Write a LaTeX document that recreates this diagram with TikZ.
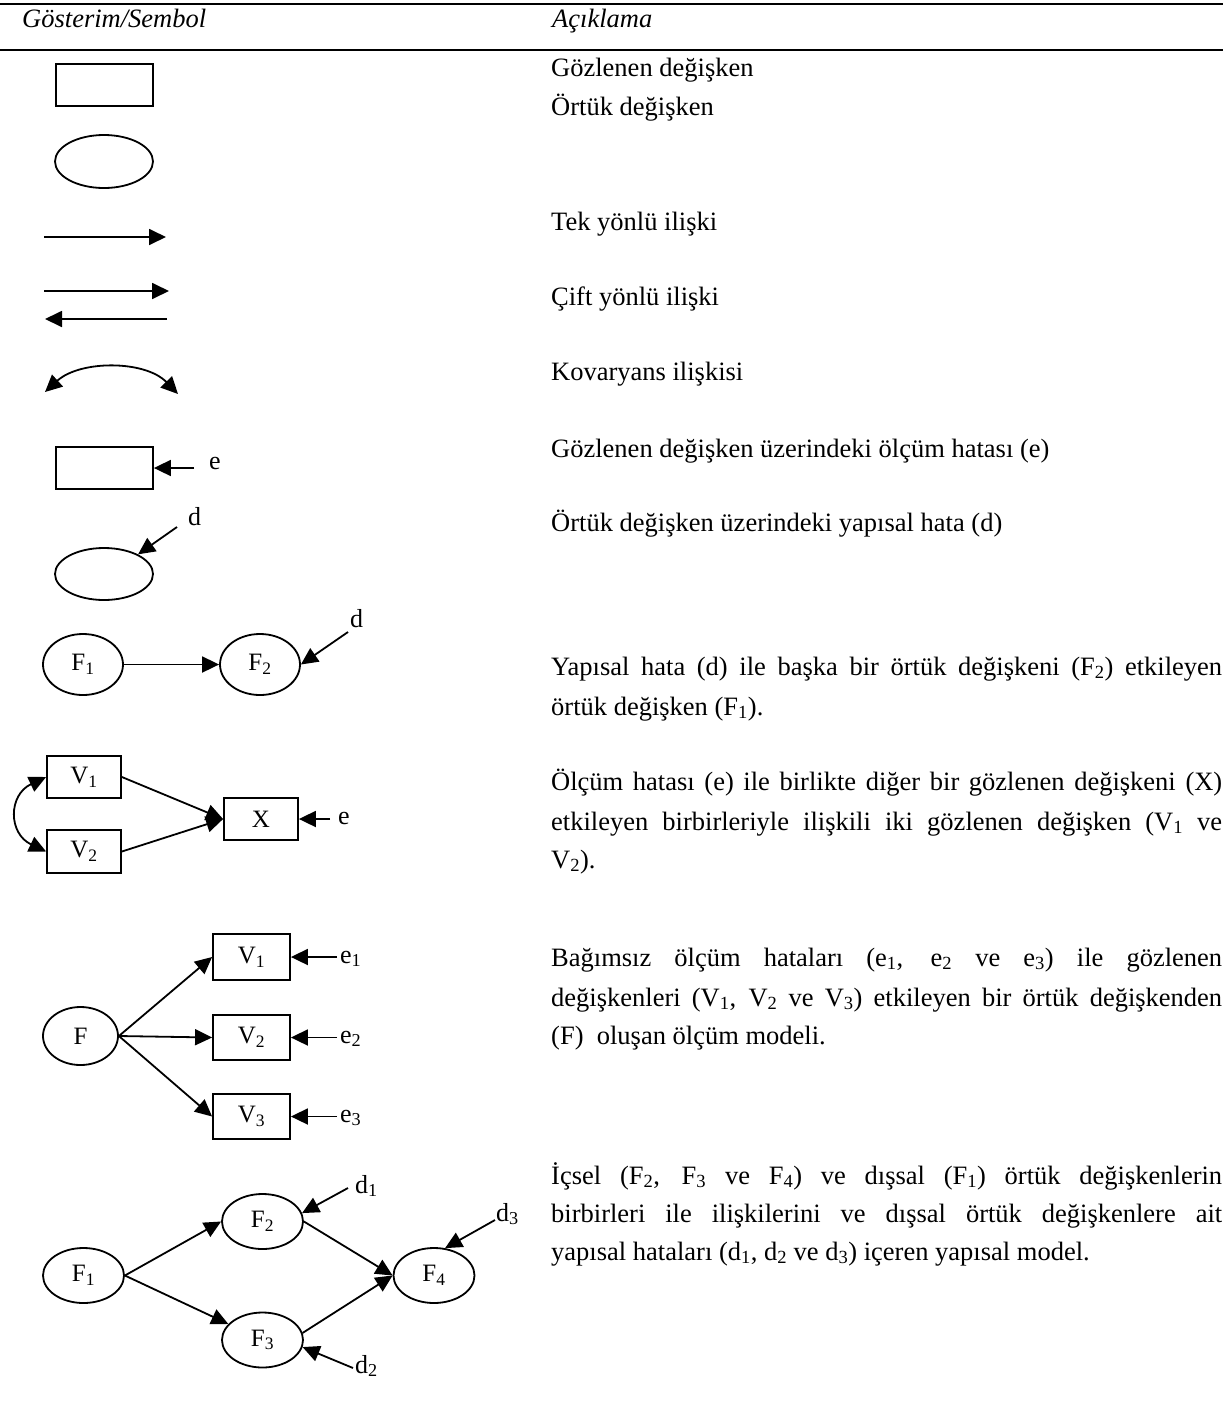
\documentclass[tikz,border=0pt]{standalone}
\usepackage{fontspec}
\setmainfont{Liberation Serif}
\usetikzlibrary{shapes.geometric,arrows.meta}

\newcommand{\sbs}[1]{\textsubscript{#1}}
\newcommand{\jline}[1]{\makebox[671pt][s]{#1}}

\tikzset{
  body/.style={anchor=base west,inner sep=0pt,font=\fontsize{26.5}{32}\selectfont},
  head/.style={anchor=base west,inner sep=0pt,font=\fontsize{26.5}{32}\selectfont\itshape},
  obsbox/.style={draw,rectangle,line width=1.8pt,inner sep=0pt,font=\fontsize{25}{30}\selectfont},
  latent/.style={draw,ellipse,line width=1.8pt,inner sep=0pt,font=\fontsize{25}{30}\selectfont},
  errlab/.style={anchor=base west,inner sep=0pt,font=\fontsize{26}{30}\selectfont},
  link/.style={line width=1.8pt,-{Triangle[length=17pt,width=16pt]}},
  twolink/.style={line width=1.8pt,{Triangle[length=17pt,width=16pt]}-{Triangle[length=17pt,width=16pt]}}
}

\begin{document}
\begin{tikzpicture}[x=1pt,y=-1pt]
	\useasboundingbox (0,0) rectangle (1223,1403);
	\draw[line width=1.8pt] (0,4) -- (1223,4);
	\draw[line width=1.6pt] (0,50) -- (1223,50);
	\node[head] (hsym) at (22,27) {Gösterim/Sembol};
	\node[head] (hdesc) at (552,27) {Açıklama};

	% simple symbols
	\node[obsbox,minimum width=97pt,minimum height=42pt] (obs) at (104.5,85) {};
	\node[body] (t1) at (551,76) {Gözlenen değişken};
	\node[latent,minimum width=98pt,minimum height=53pt] (lat) at (104,161.5) {};
	\node[body] (t2) at (551,115) {Örtük değişken};

	\coordinate (ua) at (44,237);
	\coordinate (ub) at (166,237);
	\draw[link] (ua) -- (ub);
	\node[body] (t3) at (551,230) {Tek yönlü ilişki};

	\coordinate (ba) at (44,291);
	\coordinate (bb) at (169,291);
	\coordinate (bc) at (167,319);
	\coordinate (bd) at (45,319);
	\draw[link] (ba) -- (bb);
	\draw[link] (bc) -- (bd);
	\node[body] (t4) at (551,305) {Çift yönlü ilişki};

	\coordinate (ca) at (45,392);
	\coordinate (cb) at (178,394);
	\draw[twolink] (ca) .. controls (80,360) and (145,360) .. (cb);
	\node[body] (t5) at (551,380) {Kovaryans ilişkisi};

	\node[obsbox,minimum width=97pt,minimum height=42pt] (obse) at (104.5,468) {};
	\coordinate (ein) at (194,468);
	\draw[link] (ein) -- (obse.east);
	\node[errlab] (elab) at (209,469) {e};
	\node[body] (t6) at (551,457) {Gözlenen değişken üzerindeki ölçüm hatası (e)};

	\node[latent,minimum width=98pt,minimum height=52pt] (latd) at (104,574) {};
	\coordinate (din) at (177,527);
	\draw[link] (din) -- (latd.30);
	\node[errlab] (dlab) at (188,525) {d};
	\node[body] (t7) at (551,531) {Örtük değişken üzerindeki yapısal hata (d)};

	% F1 -> F2
	\node[latent,minimum width=80pt,minimum height=61pt] (fa) at (83,664.5) {F\sbs{1}};
	\node[latent,minimum width=80pt,minimum height=61pt] (fb) at (260,664.5) {F\sbs{2}};
	\draw[link] (fa) -- (fb);
	\coordinate (dfb) at (348,632);
	\draw[link] (dfb) -- (fb.east);
	\node[errlab] (dflab) at (350,627) {d};
	\node[body] (t8) at (551,675) {\jline{Yapısal hata (d) ile başka bir örtük değişkeni  (F\sbs{2}) etkileyen}};
	\node[body] (t9) at (551,715) {örtük değişken (F\sbs{1}).};

	% V1, V2 -> X
	\node[obsbox,minimum width=74pt,minimum height=42pt] (va) at (84,777) {V\sbs{1}};
	\node[obsbox,minimum width=74pt,minimum height=43pt] (vb) at (84,851.5) {V\sbs{2}};
	\node[obsbox,minimum width=74pt,minimum height=42pt] (xx) at (261,819) {X};
	\draw[link] (va.east) -- (xx.west);
	\draw[link] (vb.east) -- (xx.west);
	\draw[twolink] (va.west) .. controls +(-38,18) and +(-38,-18) .. (vb.west);
	\coordinate (ex) at (330,819);
	\draw[link] (ex) -- (xx.east);
	\node[errlab] (exlab) at (338,824) {e};
	\node[body] (t10) at (551,790) {\jline{Ölçüm hatası (e) ile birlikte diğer bir gözlenen değişkeni  (X)}};
	\node[body] (t11) at (551,830) {\jline{etkileyen birbirleriyle ilişkili iki gözlenen değişken (V\sbs{1} ve}};
	\node[body] (t12) at (551,868) {V\sbs{2}).};

	% measurement model
	\node[latent,minimum width=75pt,minimum height=58pt] (fm) at (80.5,1036) {F};
	\node[obsbox,minimum width=77pt,minimum height=46pt] (ma) at (251.5,957) {V\sbs{1}};
	\node[obsbox,minimum width=77pt,minimum height=45pt] (mb) at (251.5,1037.5) {V\sbs{2}};
	\node[obsbox,minimum width=77pt,minimum height=45pt] (mc) at (251.5,1116.5) {V\sbs{3}};
	\draw[link] (fm.east) -- (ma.west);
	\draw[link] (fm.east) -- (mb.west);
	\draw[link] (fm.east) -- (mc.west);
	\coordinate (ea) at (337,957);
	\coordinate (eb) at (337,1037.5);
	\coordinate (ec) at (337,1116.5);
	\draw[link] (ea) -- (ma.east);
	\draw[link] (eb) -- (mb.east);
	\draw[link] (ec) -- (mc.east);
	\node[errlab] (ealab) at (340,963) {e\sbs{1}};
	\node[errlab] (eblab) at (340,1043) {e\sbs{2}};
	\node[errlab] (eclab) at (340,1122) {e\sbs{3}};
	\node[body] (t13) at (551,966) {\jline{Bağımsız ölçüm hataları (e\sbs{1}, e\sbs{2} ve e\sbs{3}) ile gözlenen}};
	\node[body] (t14) at (551,1006) {\jline{değişkenleri (V\sbs{1}, V\sbs{2} ve V\sbs{3}) etkileyen bir örtük değişkenden}};
	\node[body] (t15) at (551,1044) {(F)~ oluşan ölçüm modeli.};

	% structural model
	\node[latent,minimum width=81pt,minimum height=55pt] (sa) at (83.5,1275.5) {F\sbs{1}};
	\node[latent,minimum width=81pt,minimum height=55pt] (sb) at (262.5,1221.5) {F\sbs{2}};
	\node[latent,minimum width=81pt,minimum height=55pt] (sc) at (262.5,1340) {F\sbs{3}};
	\node[latent,minimum width=81pt,minimum height=55pt] (sd) at (434,1275.5) {F\sbs{4}};
	\draw[link] (sa.east) -- (sb.west);
	\draw[link] (sa.east) -- (sc);
	\draw[link] (sb.east) -- (sd.west);
	\draw[link] (sc.10) -- (sd.west);
	\coordinate (da) at (348,1188);
	\coordinate (db) at (353,1368);
	\coordinate (dc) at (495,1220);
	\draw[link] (da) -- (sb.12);
	\draw[link] (db) -- (sc.-10);
	\draw[link] (dc) -- (sd.68);
	\node[errlab] (dalab) at (355,1193) {d\sbs{1}};
	\node[errlab] (dblab) at (355,1373) {d\sbs{2}};
	\node[errlab] (dclab) at (496,1221) {d\sbs{3}};
	\node[body] (t16) at (551,1184) {\jline{İçsel (F\sbs{2}, F\sbs{3} ve F\sbs{4}) ve dışsal (F\sbs{1}) örtük değişkenlerin}};
	\node[body] (t17) at (551,1222) {\jline{birbirleri ile ilişkilerini ve dışsal örtük değişkenlere ait}};
	\node[body] (t18) at (551,1260) {yapısal hataları (d\sbs{1}, d\sbs{2} ve d\sbs{3}) içeren yapısal model.};
\end{tikzpicture}
\end{document}
